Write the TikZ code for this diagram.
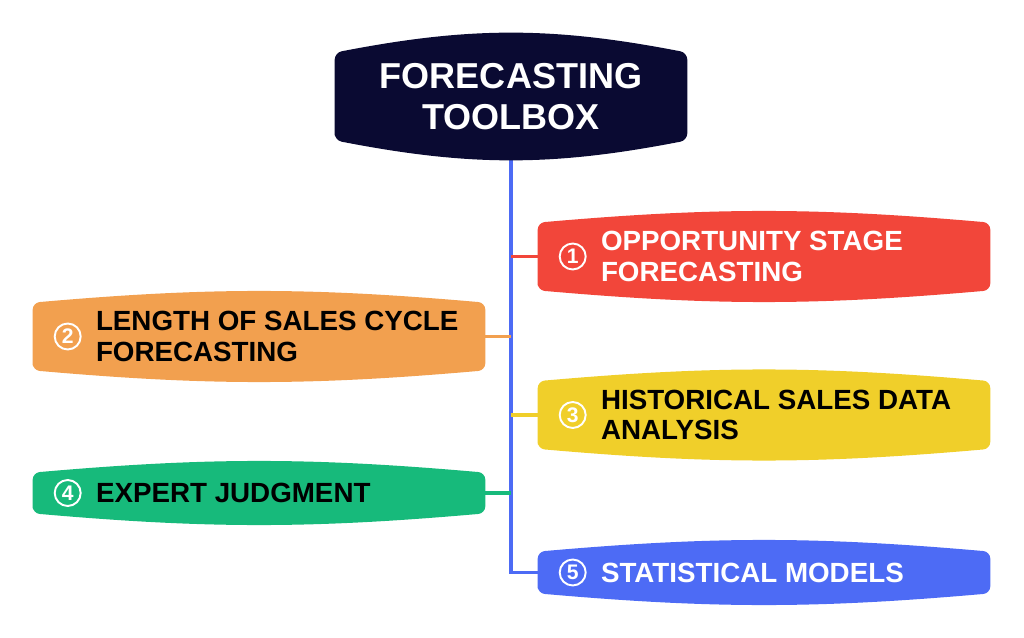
\documentclass[tikz,border=0pt]{standalone}
\usepackage{fontspec}
\setmainfont{Liberation Sans}
\usetikzlibrary{positioning,backgrounds}

\definecolor{navy}{HTML}{0A0A32}
\definecolor{tbred}{HTML}{F2463A}
\definecolor{tborange}{HTML}{F2A04F}
\definecolor{tbyellow}{HTML}{F0CF2A}
\definecolor{tbgreen}{HTML}{17BA7B}
\definecolor{tbblue}{HTML}{4D6BF5}

% barrel shaped fill behind an empty panel node: node, colour, bend
\newcommand\panelfill[3]{%
  \fill[#2, rounded corners=4pt] (#1.south west) -- (#1.north west)
    to[bend left=#3] (#1.north east) -- (#1.south east)
    to[bend left=#3] cycle;}

\begin{document}
\begin{tikzpicture}[x=0.02cm,y=-0.02cm,
  panel/.style={minimum width=9.04cm, minimum height=1.34cm, inner sep=0},
  num/.style={circle, draw=white, line width=1.1pt, minimum size=0.52cm,
    inner sep=0, text=white, font=\bfseries\fontsize{12}{12}\selectfont},
  lbl/.style={inner sep=0, align=left, font=\bfseries\fontsize{15.8}{17.5}\selectfont},
  link/.style={line width=2pt}]
  \useasboundingbox (0,0) rectangle (1024,638);

  % root
  \node[panel, minimum width=7.04cm, minimum height=1.74cm] (root) at (511,96.5) {};
  \panelfill{root}{navy}{11}
  \node[inner sep=0, align=center, text=white,
    font=\bfseries\fontsize{20.5}{23.2}\selectfont] (title) at (root) {FORECASTING\\TOOLBOX};

  % branches
  \node[panel] (p1) at (764,256.5) {};
  \panelfill{p1}{tbred}{5}
  \node[num] (n1) at ([xshift=0.7cm]p1.west) {1};
  \node[lbl, text=white, right=0.28cm of n1] (t1) {OPPORTUNITY STAGE\\FORECASTING};

  \node[panel] (p2) at (259,336.5) {};
  \panelfill{p2}{tborange}{5}
  \node[num] (n2) at ([xshift=0.7cm]p2.west) {2};
  \node[lbl, text=black, right=0.28cm of n2] (t2) {LENGTH OF SALES CYCLE\\FORECASTING};

  \node[panel] (p3) at (764,415) {};
  \panelfill{p3}{tbyellow}{5}
  \node[num] (n3) at ([xshift=0.7cm]p3.west) {3};
  \node[lbl, text=black, right=0.28cm of n3] (t3) {HISTORICAL SALES DATA\\ANALYSIS};

  \node[panel, minimum height=0.8cm] (p4) at (259,493) {};
  \panelfill{p4}{tbgreen}{5}
  \node[num] (n4) at ([xshift=0.7cm]p4.west) {4};
  \node[lbl, text=black, right=0.28cm of n4] (t4) {EXPERT JUDGMENT};

  \node[panel, minimum height=0.82cm] (p5) at (764,572.5) {};
  \panelfill{p5}{tbblue}{5}
  \node[num] (n5) at ([xshift=0.7cm]p5.west) {5};
  \node[lbl, text=white, right=0.28cm of n5] (t5) {STATISTICAL MODELS};

  % connectors
  \begin{pgfonlayer}{background}
    \draw[link, tbblue] (root.south) |- (p5.west);
    \draw[link, tbred] (p1.west) -- (p1.west -| root.south);
    \draw[link, tborange] (p2.east) -- (p2.east -| root.south);
    \draw[link, tbyellow] (p3.west) -- (p3.west -| root.south);
    \draw[link, tbgreen] (p4.east) -- (p4.east -| root.south);
  \end{pgfonlayer}
\end{tikzpicture}
\end{document}
